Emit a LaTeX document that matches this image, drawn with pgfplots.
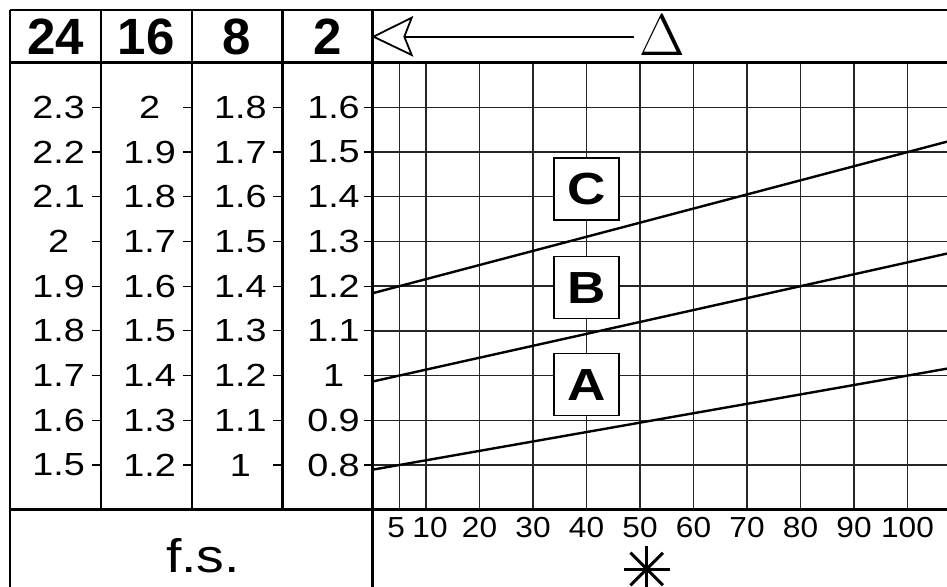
\documentclass[border=0pt]{standalone}
\usepackage{fontspec}
\setmainfont{Liberation Sans}
\newfontfamily\wsans[FakeStretch=1.18]{Liberation Sans}
\newfontfamily\xsans[FakeStretch=1.09]{Liberation Sans}
\newfontfamily\lmr{Latin Modern Roman}
\usepackage{pgfplots}
\pgfplotsset{compat=1.18}

% left-hand scale columns: same y range as the chart, labels are column values
\pgfplotsset{
  colax/.style={
    anchor=south west, scale only axis, height=447pt,
    xmin=0, xmax=1, ymin=0.7, ymax=1.7,
    xtick=\empty, ytick={0.8,0.9,1.0,1.1,1.2,1.3,1.4,1.5,1.6},
    axis line style={draw=none},
    ytick pos=right, yticklabel pos=right, tick align=inside,
    major tick length=9pt, tick style={line width=1.2pt, black},
    yticklabel style={anchor=center, xshift=-42pt, font=\wsans\fontsize{32}{32}\selectfont},
  }
}

\begin{document}
\begin{tikzpicture}
\path[use as bounding box] (0pt,0pt) rectangle (947pt,586pt);
\clip (0pt,0pt) rectangle (947pt,586pt);

\begin{axis}[colax, at={(10pt,76.3pt)}, width=90.7pt,
  yticklabels={1.5,1.6,1.7,1.8,1.9,2,2.1,2.2,2.3}]
\end{axis}
\begin{axis}[colax, at={(100.7pt,76.3pt)}, width=91pt,
  yticklabels={1.2,1.3,1.4,1.5,1.6,1.7,1.8,1.9,2}]
\end{axis}
\begin{axis}[colax, at={(191.7pt,76.3pt)}, width=90.6pt,
  yticklabels={1,1.1,1.2,1.3,1.4,1.5,1.6,1.7,1.8}]
\end{axis}

\begin{axis}[
  anchor=south west, at={(372.5pt,76.3pt)},
  scale only axis, width=599.2pt, height=447pt,
  xmin=0, xmax=112, ymin=0.7, ymax=1.7,
  xtick={5,10,20,30,40,50,60,70,80,90,100},
  xticklabels={\hspace*{-6pt}5,\hspace*{8pt}10,20,30,40,50,60,70,80,90,100},
  ytick={0.8,0.9,1.0,1.1,1.2,1.3,1.4,1.5,1.6},
  yticklabels={0.8,0.9,1,1.1,1.2,1.3,1.4,1.5,1.6},
  grid=major, grid style={line width=1.4pt, black!85},
  axis line style={line width=2.4pt},
  tick align=outside, major tick length=9pt,
  xtick style={draw=none}, ytick style={line width=1.2pt, black},
  yticklabel style={anchor=center, xshift=-30pt, font=\wsans\fontsize{32}{32}\selectfont},
  xticklabel style={anchor=north, inner sep=0pt, yshift=1.5pt, font=\xsans\fontsize{29}{29}\selectfont},
]
\addplot[line width=2.4pt] coordinates {(0,0.7895) (5,0.8) (100,1.0) (112,1.0253)};
\addplot[line width=2.4pt] coordinates {(0,0.9867) (5,1.0) (80,1.2) (112,1.2853)};
\addplot[line width=2.4pt] coordinates {(0,1.1842) (5,1.2) (100,1.5) (112,1.5379)};
\node[draw, line width=1.8pt, fill=white, minimum width=65pt, minimum height=62pt,
  inner sep=0pt, font=\wsans\fontsize{45}{45}\selectfont\bfseries] at (axis cs:40,1.417) {C};
\node[draw, line width=1.8pt, fill=white, minimum width=65pt, minimum height=62pt,
  inner sep=0pt, font=\wsans\fontsize{45}{45}\selectfont\bfseries] at (axis cs:40,1.197) {B};
\node[draw, line width=1.8pt, fill=white, minimum width=65pt, minimum height=62pt,
  inner sep=0pt, font=\wsans\fontsize{45}{45}\selectfont\bfseries] at (axis cs:40,0.98) {A};
\end{axis}

\begin{scope}[x=1pt, y=1pt, line width=2.4pt]
  % frame of the table
  \draw (10,576) -- (960,576);
  \draw (10,523.3) -- (960,523.3);
  \draw (10,76.3) -- (960,76.3);
  \draw (10,576) -- (10,-10);
  \draw (100.7,576) -- (100.7,76.3);
  \draw (191.7,576) -- (191.7,76.3);
  \draw (282.3,576) -- (282.3,76.3);
  \draw (372.5,576) -- (372.5,-10);
  % header
  \foreach \x/\t in {55.4/24, 146.2/16, 237/8, 327.4/2}
    \node[font=\fontsize{51}{51}\selectfont\bfseries, inner sep=0pt] at (\x,549.5) {\t};
  \draw[line width=1.8pt, line join=miter]
    (373.5,549.3) -- (411.7,568.3) -- (404.3,549.3) -- (411.7,531) -- cycle;
  \draw[line width=2pt] (404.3,549.3) -- (634.3,549.3);
  \node[font=\lmr\fontsize{59}{59}\selectfont, inner sep=0pt] at (662,551) {Δ};
  % bottom row
  \node[font=\wsans\fontsize{47}{47}\selectfont, anchor=base, inner sep=0pt] at (203,13) {f.s.};
  \begin{scope}[shift={(646.7,17)}, line width=3pt]
    \foreach \a in {0,45,90,135}
      \draw (\a:23) -- (\a+180:23);
  \end{scope}
\end{scope}
\end{tikzpicture}
\end{document}
